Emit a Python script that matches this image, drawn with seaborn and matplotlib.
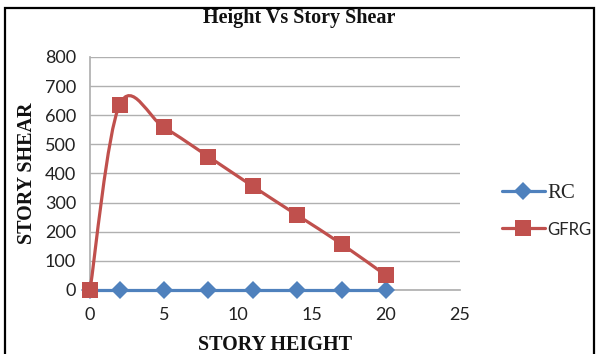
import numpy as np
import matplotlib
matplotlib.use("Agg")
import matplotlib.pyplot as plt
import seaborn as sns
from matplotlib.path import Path
from matplotlib.patches import PathPatch, Rectangle
from matplotlib.lines import Line2D
from matplotlib.font_manager import FontProperties

# data
story_height = [0, 2, 5, 8, 11, 14, 17, 20]
rc_shear = [0, 0, 0, 0, 0, 0, 0, 0]
gfrg_shear = [0, 636, 558, 458, 356, 257, 158, 50]

blue = "#4F81BD"
red = "#C0504D"

sns.set_theme(style="white")
plt.rcParams["font.family"] = ["Lato", "DejaVu Sans"]

fig = plt.figure(figsize=(5.98, 3.54), dpi=100)
ax = fig.add_axes([0.1505, 0.181, 0.6185, 0.658])

# smoothed line like the spreadsheet's "smoothed line" option (cubic bezier)
def smooth_path(xs, ys):
    pts = np.column_stack([xs, ys]).astype(float)
    n = len(pts)
    verts = [pts[0]]
    codes = [Path.MOVETO]
    for i in range(n - 1):
        p_prev = pts[i - 1] if i > 0 else pts[i]
        p_next2 = pts[i + 2] if i + 2 < n else pts[i + 1]
        c1 = pts[i] + (pts[i + 1] - p_prev) / 6
        c2 = pts[i + 1] - (p_next2 - pts[i]) / 6
        verts += [c1, c2, pts[i + 1]]
        codes += [Path.CURVE4] * 3
    return Path(verts, codes)

sns.lineplot(x=story_height, y=rc_shear, color=blue, lw=2.3, marker="D",
             markersize=9, markeredgewidth=0, ax=ax, zorder=3, clip_on=False)
ax.add_patch(PathPatch(smooth_path(story_height, gfrg_shear), facecolor="none",
                       edgecolor=red, lw=2.3, zorder=4, clip_on=False))
sns.scatterplot(x=story_height, y=gfrg_shear, color=red, marker="s", s=140,
                linewidth=0, ax=ax, zorder=5, clip_on=False)

ax.set_xlim(0, 25)
ax.set_ylim(0, 800)
ax.set_xticks(range(0, 26, 5))
ax.set_yticks(range(0, 801, 100))
ax.yaxis.grid(True, color="#b0b0b0", lw=1)
ax.xaxis.grid(False)
for s in ["top", "right"]:
    ax.spines[s].set_visible(False)
ax.spines["left"].set_color("#b0b0b0")
ax.spines["bottom"].set_color("#b0b0b0")
ax.tick_params(axis="both", labelsize=13, colors="#222222", length=0)
ax.tick_params(axis="x", pad=12)
ax.tick_params(axis="y", pad=10)

serif = ["Liberation Serif"]
ax.set_xlabel("STORY HEIGHT", family=serif, fontweight="bold",
              fontsize=14.5, color="#111111", labelpad=9)
ax.set_ylabel("STORY SHEAR", family=serif, fontweight="bold",
              fontsize=14.5, color="#111111", labelpad=6)
fig.text(0.5, 0.948, "Height Vs Story Shear", family=serif,
         fontweight="bold", fontsize=14.5, ha="center", va="center", color="#111111")

handles = [Line2D([], [], color=blue, lw=2.3, marker="D", markersize=9, markeredgewidth=0),
           Line2D([], [], color=red, lw=2.3, marker="s", markersize=11.5, markeredgewidth=0)]
leg = fig.legend(handles, ["RC", "GFRG"], loc="center left", bbox_to_anchor=(0.81, 0.405),
                 frameon=False, fontsize=14, handlelength=2.2, handletextpad=0.15,
                 labelspacing=0.95)
leg.get_texts()[0].set_fontproperties(FontProperties(family="Liberation Serif", size=15))
leg.get_texts()[1].set_fontproperties(FontProperties(family="Lato", size=12))

# outer frame of the chart box
fig.patches.append(Rectangle((0.009, -0.05), 0.985, 1.027, transform=fig.transFigure,
                             fill=False, edgecolor="black", lw=1.6))

fig.savefig("out.png", dpi=100)
